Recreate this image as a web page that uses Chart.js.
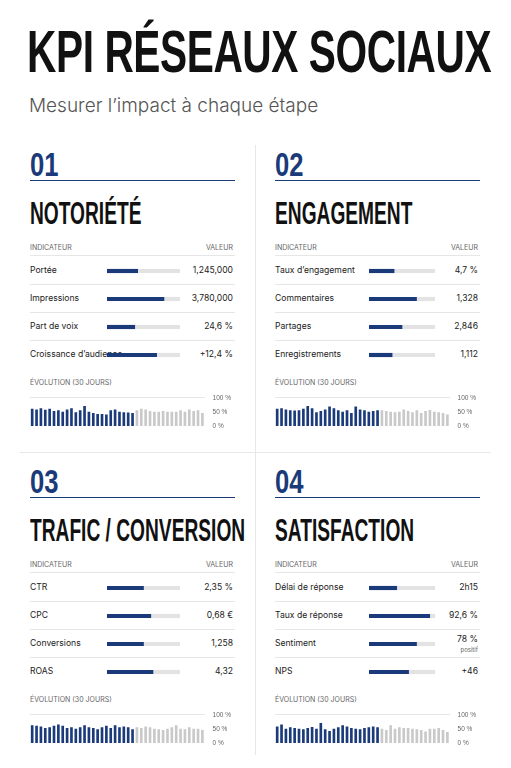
<!DOCTYPE html>
<html><head><meta charset="utf-8">
<script src="https://cdn.jsdelivr.net/npm/chart.js@4/dist/chart.umd.min.js"></script>
<style>
body{margin:0;width:511px;height:768px;background:#fff;font-family:Inter,"Liberation Sans",sans-serif;color:#222;position:relative;overflow:hidden}
.abs{position:absolute}
h1{position:absolute;left:27px;top:22px;margin:0;font-family:"Liberation Sans",sans-serif;font-weight:700;font-size:50px;letter-spacing:-0.5px;color:#111;transform-origin:top left;white-space:nowrap;line-height:1}
.sub{left:29px;top:94px;font-size:19px;color:#555;font-weight:300}
.num{font-family:"Liberation Sans",sans-serif;font-weight:700;font-size:32px;color:#1a3a7a;transform:scale(0.8,1.05);transform-origin:top left;line-height:1}
.head{font-family:"Liberation Sans",sans-serif;font-weight:700;font-size:27px;color:#111;transform:scale(0.71,1.15);transform-origin:top left;white-space:nowrap;line-height:1}
.cap{font-size:7px;color:#666}
.lbl{font-size:8.6px;color:#222}
.line{height:1px;background:#1a3a7a}
.sep{height:1px;background:#e6e6e6}
</style></head><body>
<h1 id="title">KPI RÉSEAUX SOCIAUX</h1>
<div class="abs sub">Mesurer l’impact à chaque étape</div>
<div class="abs" style="left:255px;top:145px;width:1px;height:610px;background:#e8e8e8"></div>
<div class="abs" style="left:20px;top:452px;width:471px;height:1px;background:#e8e8e8"></div>
<div id="root"></div>
<script>
// ============ Data ============
const panelNums = ['01', '02', '03', '04'];
const panelTitles = ['NOTORIÉTÉ', 'ENGAGEMENT', 'TRAFIC / CONVERSION', 'SATISFACTION'];
const indicators = [
  ['Portée', 'Impressions', 'Part de voix', 'Croissance d’audience'],
  ['Taux d’engagement', 'Commentaires', 'Partages', 'Enregistrements'],
  ['CTR', 'CPC', 'Conversions', 'ROAS'],
  ['Délai de réponse', 'Taux de réponse', 'Sentiment', 'NPS']
];
const valueTexts = [
  ['1,245,000', '3,780,000', '24,6 %', '+12,4 %'],
  ['4,7 %', '1,328', '2,846', '1,112'],
  ['2,35 %', '0,68 €', '1,258', '4,32'],
  ['2h15', '92,6 %', '78 %', '+46']
];
const progress = [
  [42, 78, 38, 68],
  [38, 72, 50, 35],
  [50, 60, 50, 63],
  [42, 92, 72, 60]
];
const evoTicks = ['0 %', '50 %', '100 %'];
const evoDark = 24;
const evolution = [
  [60,58,62,57,60,52,55,50,58,62,48,55,70,50,45,42,42,40,55,58,50,48,47,45,55,60,58,52,50,50,52,50,50,50,55,50,58,52,55,45],
  [60,62,58,55,54,55,60,70,62,48,52,58,68,62,55,50,55,45,68,58,55,50,52,55,55,52,50,48,50,58,52,48,55,45,52,56,50,48,45,40],
  [62,60,58,52,55,60,65,60,52,55,50,55,62,55,52,48,55,60,52,62,55,58,55,48,55,52,58,55,50,48,45,50,55,62,50,48,55,50,50,45],
  [58,65,50,55,52,50,48,52,56,50,70,48,42,50,55,62,58,52,50,48,52,55,58,55,50,45,62,50,55,52,52,50,48,45,40,50,50,52,45,38]
];

// ============ Layout ============
const title = document.getElementById('title');
title.style.transform = `scale(${464 / title.offsetWidth}, 1.2)`;

const root = document.getElementById('root');
const panelX = [30, 275];
const panelY = [145, 462];
const panelW = 205;

function el(cls, style, text) {
  const d = document.createElement('div');
  d.className = 'abs ' + cls;
  d.style.cssText = style;
  if (text !== undefined) d.textContent = text;
  root.appendChild(d);
  return d;
}

function buildPanel(i) {
  const x = panelX[i % 2], y = panelY[Math.floor(i / 2)];
  el('num', `left:${x}px;top:${y + 3}px`, panelNums[i]);
  el('line', `left:${x}px;top:${y + 35}px;width:${panelW}px`);
  el('head', `left:${x}px;top:${y + 54}px`, panelTitles[i]);
  el('cap', `left:${x}px;top:${y + 98}px`, 'INDICATEUR');
  el('cap', `left:${x + panelW - 80}px;top:${y + 98}px;width:78px;text-align:right`, 'VALEUR');
  el('sep', `left:${x}px;top:${y + 110}px;width:${panelW}px`);
  const trackX = i % 2 === 0 ? x + 77 : x + 94;
  const trackW = i % 2 === 0 ? 73 : 66;
  for (let r = 0; r < 4; r++) {
    const ry = y + 112 + r * 28;
    el('lbl', `left:${x}px;top:${ry + 8}px`, indicators[i][r]);
    const v = el('lbl', `left:${x + panelW - 80}px;top:${ry + 8}px;width:78px;text-align:right`, valueTexts[i][r]);
    if (i === 3 && r === 2) {
      v.style.top = (ry + 4) + 'px';
      el('cap', `left:${x + panelW - 80}px;top:${ry + 16}px;width:78px;text-align:right;font-size:6px`, 'positif');
    }
    if (r < 3) el('sep', `left:${x}px;top:${ry + 27}px;width:${panelW}px`);
  }
  // progress bars
  const c = document.createElement('canvas');
  const wrap = el('', `left:${trackX}px;top:${y + 112}px;width:${trackW}px;height:112px`);
  wrap.appendChild(c);
  new Chart(c, {
    type: 'bar',
    data: {
      labels: indicators[i],
      datasets: [
        { data: progress[i], backgroundColor: '#1a3a7a', barThickness: 3.5 },
        { data: progress[i].map(p => 100 - p), backgroundColor: '#e3e3e3', barThickness: 3.5 }
      ]
    },
    options: {
      indexAxis: 'y', animation: false, responsive: true, maintainAspectRatio: false,
      layout: { padding: 0 },
      plugins: { legend: { display: false }, tooltip: { enabled: false } },
      scales: {
        x: { stacked: true, display: false, min: 0, max: 100 },
        y: { stacked: true, display: false }
      }
    }
  });
  // evolution
  el('cap', `left:${x}px;top:${y + 233}px`, 'ÉVOLUTION (30 JOURS)');
  const c2 = document.createElement('canvas');
  const wrap2 = el('', `left:${x}px;top:${y + 241}px;width:${panelW + 4}px;height:52px`);
  wrap2.appendChild(c2);
  new Chart(c2, {
    type: 'bar',
    data: {
      labels: evolution[i].map((_, k) => k + 1),
      datasets: [{
        data: evolution[i],
        backgroundColor: evolution[i].map((_, k) => k < evoDark ? '#1a3a7a' : '#c9c9c9'),
        barThickness: 2
      }]
    },
    options: {
      animation: false, responsive: true, maintainAspectRatio: false,
      layout: { padding: { top: 4, bottom: 2 } },
      plugins: { legend: { display: false }, tooltip: { enabled: false } },
      scales: {
        x: { display: false },
        y: {
          position: 'right', min: 0, max: 100,
          border: { display: false },
          grid: { color: ctx => ctx.tick.value === 100 ? '#e6e6e6' : 'transparent', drawTicks: false },
          ticks: { stepSize: 50, padding: 8, color: '#666', font: { size: 6.5 },
            callback: v => evoTicks[v / 50] }
        }
      }
    }
  });
}

for (let i = 0; i < 4; i++) buildPanel(i);
</script>
</body></html>
